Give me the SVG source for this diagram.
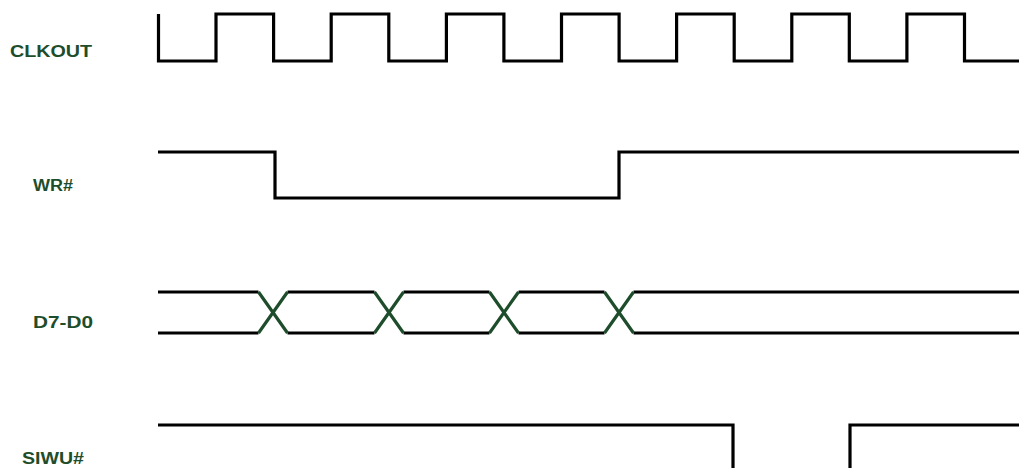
<svg xmlns="http://www.w3.org/2000/svg" width="1019" height="468" viewBox="0 0 1019 468">
<style>
.lbl{font-family:"Liberation Sans",Arial,sans-serif;font-weight:bold;font-size:16px;fill:#1e4d2b}
.w{fill:none;stroke:#000;stroke-width:3.2;stroke-linejoin:miter}
.x{fill:none;stroke:#1e4d2b;stroke-width:3.2}
</style>
<rect width="1019" height="468" fill="#fff"/>
<g id="clkout">
<text class="lbl" x="10" y="56.5" textLength="82" lengthAdjust="spacingAndGlyphs">CLKOUT</text>
<path class="w" d="M158.5,14 V61 H216 V14 H273.6 V61 H331.2 V14 H388.8 V61 H446.4 V14 H503.9 V61 H561.5 V14 H619.1 V61 H676.6 V14 H734.2 V61 H791.8 V14 H849.3 V61 H906.9 V14 H964.5 V61 H1020"/>
</g>
<g id="wr">
<text class="lbl" x="33" y="190.5" textLength="40" lengthAdjust="spacingAndGlyphs">WR#</text>
<path class="w" d="M158,152 H275 V198 H619 V152 H1020"/>
</g>
<g id="d7d0">
<text class="lbl" x="33" y="328" textLength="60" lengthAdjust="spacingAndGlyphs">D7-D0</text>
<path class="w" d="M158,292 H258.5 M287.5,292 H374.5 M403.5,292 H489.5 M518.5,292 H604.5 M633.5,292 H1020 M158,333 H258.5 M287.5,333 H374.5 M403.5,333 H489.5 M518.5,333 H604.5 M633.5,333 H1020"/>
<g id="connectors">
<path class="x" d="M258.5,292 L287.5,333 M258.5,333 L287.5,292 M374.5,292 L403.5,333 M374.5,333 L403.5,292 M489.5,292 L518.5,333 M489.5,333 L518.5,292 M604.5,292 L633.5,333 M604.5,333 L633.5,292"/>
</g>
</g>
<g id="siwu">
<text class="lbl" x="22" y="464" textLength="62" lengthAdjust="spacingAndGlyphs">SIWU#</text>
<path class="w" d="M158,425 H733 V470 M850,470 V425 H1020"/>
</g>
</svg>
